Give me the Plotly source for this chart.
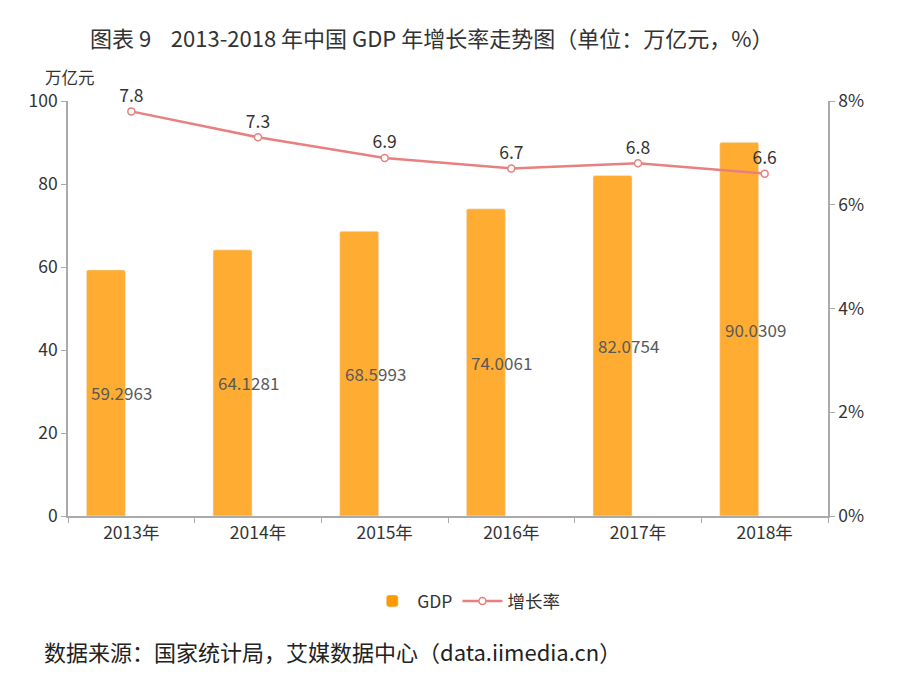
import plotly.graph_objects as go

years = ["2013年", "2014年", "2015年", "2016年", "2017年", "2018年"]
gdp = [59.2963, 64.1281, 68.5993, 74.0061, 82.0754, 90.0309]
growth = [7.8, 7.3, 6.9, 6.7, 6.8, 6.6]
gdp_labels = ["59.2963", "64.1281", "68.5993", "74.0061", "82.0754", "90.0309"]

FONT = "Noto Sans CJK SC"
TXT = "#333333"
AX = "#aaaaaa"
FS = 17.5

fig = go.Figure()
fig.add_trace(go.Bar(
    x=years, y=gdp, name="GDP",
    marker=dict(color="#FF9900", opacity=0.8, cornerradius=2),
    width=0.308, offset=-0.355,
))
fig.add_trace(go.Scatter(
    x=years, y=growth, name="增长率", yaxis="y2",
    mode="lines+markers+text",
    text=[str(v) for v in growth], textposition="top center",
    textfont=dict(size=FS, color=TXT, family=FONT),
    line=dict(color="#E8807F", width=2.5),
    marker=dict(symbol="circle", size=7, color="white",
                line=dict(color="#E8807F", width=1.5)),
    cliponaxis=False,
))

for yr, v, lab in zip(years, gdp, gdp_labels):
    fig.add_annotation(x=yr, y=v / 2, text=lab, showarrow=False, xanchor="left",
                       xshift=-42, font=dict(size=17, color="#595959", family=FONT))

fig.update_layout(
    width=900, height=658,
    paper_bgcolor="white", plot_bgcolor="white",
    margin=dict(l=60, r=80, t=93, b=150),
    font=dict(family=FONT, color=TXT, size=FS),
    showlegend=True,
    legend=dict(orientation="h", x=0.524, xanchor="center", y=-0.205, yanchor="middle",
                font=dict(size=FS, color=TXT, family=FONT), itemwidth=40),
    xaxis=dict(type="category", tickson="boundaries", showline=True, linecolor=AX,
               linewidth=1.5, ticks="outside", ticklen=5, tickcolor=AX,
               tickfont=dict(size=FS, color=TXT), showgrid=False),
    yaxis=dict(range=[0, 100], dtick=20, showline=True, linecolor=AX, linewidth=1.5,
               ticks="outside", ticklen=5, tickcolor=AX, showgrid=False, zeroline=False,
               tickfont=dict(size=FS, color=TXT)),
    yaxis2=dict(range=[0, 8], dtick=2, ticksuffix="%", overlaying="y", side="right",
                showline=True, linecolor=AX, linewidth=1.5, ticks="outside", ticklen=5,
                tickcolor=AX, showgrid=False, zeroline=False,
                tickfont=dict(size=FS, color=TXT)),
)

fig.add_annotation(xref="paper", yref="paper", x=(43 - 68) / 760, xanchor="left",
                   y=(516 - 77) / 415, yanchor="middle", text="万亿元", showarrow=False,
                   font=dict(size=16.5, color=TXT, family=FONT))
fig.add_annotation(xref="paper", yref="paper", x=(431 - 68) / 760, xanchor="center",
                   y=(516 - 37) / 415, yanchor="middle",
                   text="图表 9\u00a0\u00a0\u00a0 2013-2018 年中国 GDP 年增长率走势图（单位：万亿元，%）",
                   showarrow=False, font=dict(size=22, color=TXT, family=FONT))
fig.add_annotation(xref="paper", yref="paper", x=(42 - 68) / 760, xanchor="left",
                   y=(516 - 651) / 415, yanchor="middle",
                   text="数据来源：国家统计局，艾媒数据中心（data.iimedia.cn）",
                   showarrow=False, font=dict(size=22, color="#222222", family=FONT))

fig.write_html("out.html")
